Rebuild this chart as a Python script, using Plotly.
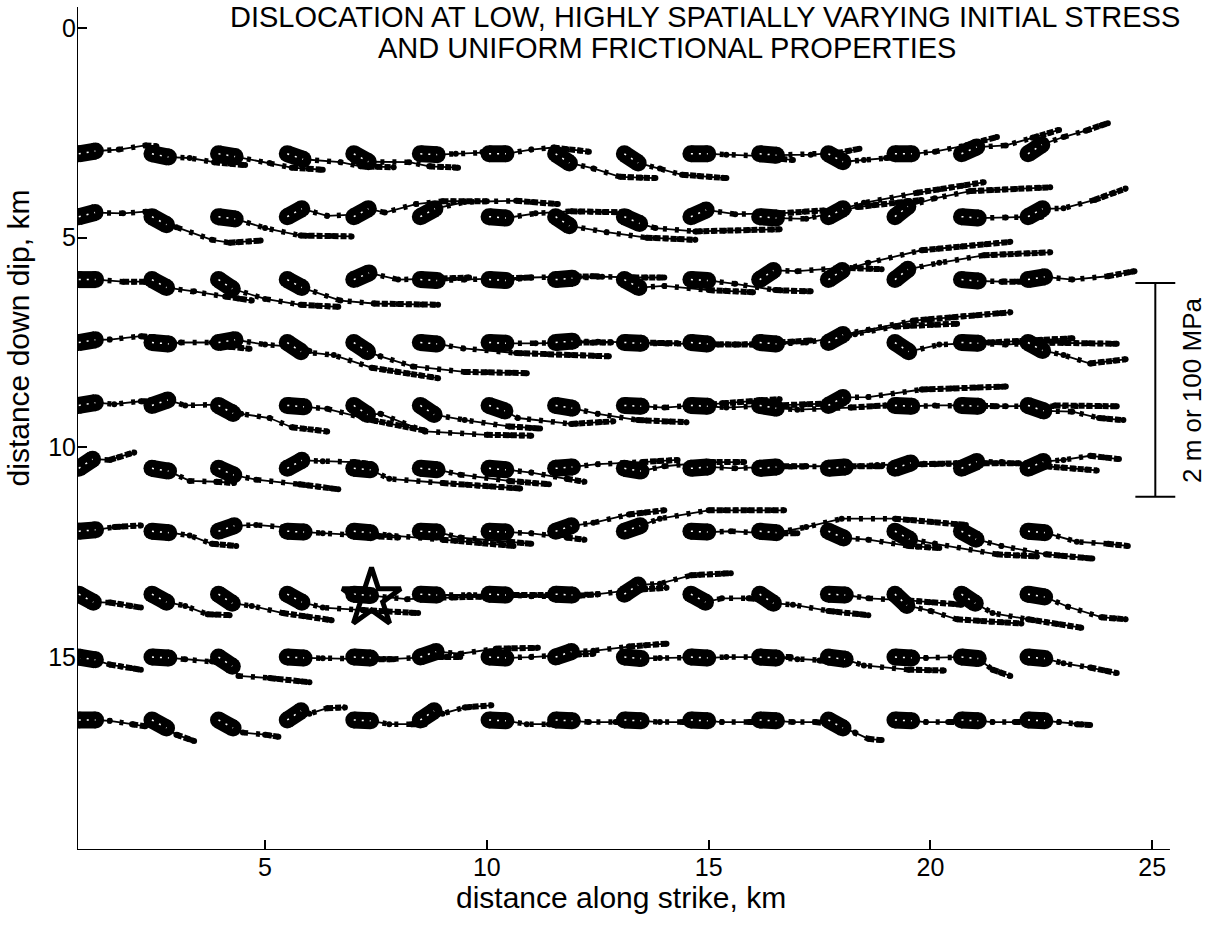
import math
import plotly.graph_objects as go

TITLE_LINE_1 = "DISLOCATION AT LOW, HIGHLY SPATIALLY VARYING INITIAL STRESS"
TITLE_LINE_2 = "AND UNIFORM FRICTIONAL PROPERTIES"
X_LABEL = "distance along strike, km"
Y_LABEL = "distance down dip, km"
SCALE_LABEL = "2 m or 100 MPa"

X_TICKS = [5, 10, 15, 20, 25]
Y_TICKS = [0, 5, 10, 15]

# station positions along strike (km) and down dip (km)
STATION_X = [0.8, 2.45, 3.95, 5.5, 7.0, 8.5, 10.05, 11.55, 13.1, 14.6, 16.15, 17.7, 19.2, 20.7, 22.2]
ROW_DEPTHS = [3.0, 4.5, 6.0, 7.5, 9.0, 10.5, 12.0, 13.5, 15.0, 16.5]

# each station: (initial slip direction in deg, + = down dip), trajectory vertices (x, y) in km
ROW_3_0 = [
    (-10, [(1.7, 2.9), (2.3, 2.8), (2.55, 2.82)]),
    (12, [(3.3, 3.1), (3.85, 3.2), (4.55, 3.27)]),
    (10, [(5.1, 3.22), (5.6, 3.33), (6.3, 3.38)]),
    (20, [(6.7, 3.2), (7.15, 3.3), (7.9, 3.32)]),
    (30, [(8.25, 3.2), (8.7, 3.3), (9.35, 3.33)]),
    (3, [(9.3, 3.0), (9.9, 2.96), (10.4, 2.95)]),
    (0, [(11.0, 2.9), (11.5, 2.85), (12.3, 2.95)]),
    (35, [(12.4, 3.35), (13.0, 3.55), (13.8, 3.58)]),
    (35, [(13.9, 3.35), (14.4, 3.5), (15.4, 3.58)]),
    (0, [(15.4, 3.02), (16.1, 3.05), (16.9, 3.15)]),
    (5, [(17.3, 3.02), (17.9, 2.98), (18.4, 2.88)]),
    (30, [(18.5, 3.15), (19.0, 3.1), (19.6, 3.05)]),
    (0, [(20.1, 2.95), (20.8, 2.8), (21.5, 2.6)]),
    (-25, [(21.7, 2.8), (22.3, 2.62), (22.9, 2.43)]),
    (-35, [(23.0, 2.6), (23.5, 2.45), (24.0, 2.27)]),
]
ROW_4_5 = [
    (-15, [(1.8, 4.42), (2.3, 4.38), (2.5, 4.4)]),
    (30, [(3.0, 4.75), (3.8, 5.05), (4.2, 5.12), (4.9, 5.07)]),
    (8, [(5.0, 4.77), (5.8, 4.95), (6.95, 4.97)]),
    (-30, [(6.4, 4.48), (7.0, 4.45), (7.4, 4.38)]),
    (-30, [(7.7, 4.4), (8.4, 4.2), (9.0, 4.13), (10.0, 4.13)]),
    (-30, [(9.5, 4.15), (10.66, 4.12), (11.6, 4.2)]),
    (5, [(11.1, 4.42), (11.9, 4.37), (13.2, 4.4)]),
    (35, [(12.7, 4.87), (13.6, 5.0), (14.7, 5.05)]),
    (25, [(13.8, 4.77), (14.7, 4.85), (16.6, 4.8)]),
    (-25, [(15.6, 4.44), (16.6, 4.42), (17.6, 4.35)]),
    (5, [(17.2, 4.55), (18.35, 4.27), (19.8, 4.1)]),
    (-30, [(18.5, 4.17), (19.7, 3.93), (21.2, 3.68)]),
    (-40, [(20.1, 4.06), (20.9, 3.89), (22.7, 3.8)]),
    (5, [(21.7, 4.52), (22.2, 4.5), (22.5, 4.5)]),
    (-30, [(23.0, 4.3), (23.7, 4.1), (24.4, 3.83)]),
]
ROW_6_0 = [
    (0, [(1.8, 6.05), (2.3, 6.05)]),
    (30, [(3.4, 6.28), (4.1, 6.4), (4.7, 6.5)]),
    (35, [(5.0, 6.46), (5.8, 6.6), (6.65, 6.65)]),
    (30, [(6.7, 6.5), (7.45, 6.57), (8.9, 6.6)]),
    (-25, [(8.0, 6.0), (8.8, 5.98), (9.6, 5.95)]),
    (3, [(9.5, 6.0), (10.3, 5.97), (11.0, 5.95)]),
    (3, [(11.0, 5.95), (11.8, 5.93), (12.5, 5.92)]),
    (-5, [(12.6, 5.93), (13.3, 5.95), (14.0, 5.95)]),
    (30, [(14.0, 6.15), (15.0, 6.25), (16.0, 6.3)]),
    (3, [(15.6, 6.1), (16.5, 6.25), (17.3, 6.28)]),
    (-35, [(17.0, 5.8), (18.0, 5.72), (18.9, 5.75)]),
    (-35, [(18.6, 5.6), (19.8, 5.3), (21.8, 5.1)]),
    (-40, [(20.2, 5.6), (21.2, 5.42), (22.7, 5.35)]),
    (5, [(21.6, 6.05), (22.3, 6.05)]),
    (-10, [(23.2, 6.0), (24.0, 5.92), (24.6, 5.8)]),
]
ROW_7_5 = [
    (-10, [(1.5, 7.43), (2.2, 7.35), (2.5, 7.38)]),
    (5, [(3.1, 7.5), (3.8, 7.5), (4.2, 7.6), (4.65, 7.65)]),
    (-10, [(5.0, 7.55), (5.6, 7.6), (6.0, 7.7)]),
    (35, [(6.55, 7.8), (7.4, 8.1), (8.9, 8.35)]),
    (35, [(7.6, 7.83), (8.33, 8.07), (9.5, 8.2), (10.9, 8.23)]),
    (5, [(9.47, 7.64), (10.66, 7.75), (12.75, 7.83)]),
    (3, [(11.1, 7.52), (12.0, 7.5), (12.8, 7.5)]),
    (-5, [(12.5, 7.48), (13.5, 7.5), (14.3, 7.52)]),
    (3, [(14.0, 7.52), (15.2, 7.55), (16.0, 7.55)]),
    (5, [(15.6, 7.55), (16.6, 7.5), (17.3, 7.45)]),
    (5, [(17.2, 7.5), (18.3, 7.3), (19.2, 7.12), (20.6, 7.05)]),
    (-30, [(18.6, 7.2), (19.6, 6.98), (21.8, 6.78)]),
    (35, [(20.2, 7.55), (21.3, 7.5), (23.2, 7.4)]),
    (3, [(21.7, 7.55), (22.5, 7.5), (24.2, 7.53)]),
    (30, [(23.0, 7.8), (23.6, 8.0), (24.4, 7.9)]),
]
ROW_9_0 = [
    (-10, [(1.6, 8.97), (2.2, 8.9), (2.6, 8.92)]),
    (-20, [(3.2, 9.0), (3.9, 8.98), (4.3, 9.05)]),
    (30, [(4.46, 9.2), (5.1, 9.3), (5.6, 9.52), (6.4, 9.62)]),
    (5, [(6.4, 9.08), (7.4, 9.35), (8.6, 9.6)]),
    (35, [(7.6, 9.2), (8.6, 9.62), (10.0, 9.7), (11.0, 9.72)]),
    (35, [(9.5, 9.35), (10.5, 9.5), (11.2, 9.55)]),
    (20, [(10.7, 9.3), (11.9, 9.44), (12.85, 9.38)]),
    (10, [(12.5, 9.2), (13.4, 9.35), (14.5, 9.4)]),
    (3, [(14.0, 9.05), (15.3, 8.95), (16.6, 8.85)]),
    (3, [(15.4, 9.05), (16.5, 9.0), (17.8, 8.95)]),
    (10, [(17.0, 9.1), (18.2, 9.05), (19.0, 9.0)]),
    (-30, [(18.6, 8.8), (19.8, 8.62), (21.7, 8.55)]),
    (3, [(20.1, 9.0), (20.8, 9.0), (21.5, 9.02)]),
    (3, [(21.7, 9.02), (22.8, 9.0), (24.2, 9.02)]),
    (20, [(23.2, 9.15), (23.8, 9.3), (24.35, 9.35)]),
]
ROW_10_5 = [
    (-35, [(1.5, 10.3), (2.05, 10.12)]),
    (10, [(3.3, 10.8), (3.9, 10.82), (4.3, 10.85)]),
    (25, [(4.8, 10.77), (5.77, 10.88), (6.65, 11.0)]),
    (-30, [(6.3, 10.33), (7.0, 10.35), (7.4, 10.4)]),
    (5, [(7.8, 10.75), (9.0, 10.85), (10.75, 10.98)]),
    (5, [(9.4, 10.65), (10.5, 10.8), (11.4, 10.88)]),
    (5, [(11.0, 10.6), (11.8, 10.75), (12.2, 10.82)]),
    (-5, [(12.5, 10.4), (13.5, 10.35), (14.3, 10.3)]),
    (10, [(14.0, 10.45), (15.0, 10.35), (15.8, 10.35)]),
    (-5, [(15.6, 10.5), (16.5, 10.45), (17.2, 10.45)]),
    (-5, [(17.2, 10.45), (18.2, 10.45), (18.9, 10.45)]),
    (-5, [(18.8, 10.42), (19.8, 10.4), (20.6, 10.38)]),
    (-20, [(20.1, 10.4), (21.2, 10.38), (22.0, 10.38)]),
    (-25, [(21.6, 10.35), (22.6, 10.45), (23.75, 10.55)]),
    (-25, [(23.0, 10.3), (23.6, 10.2), (24.25, 10.28)]),
]
ROW_12_0 = [
    (-5, [(1.6, 11.9), (2.2, 11.86)]),
    (5, [(3.3, 12.1), (3.8, 12.3), (4.35, 12.35)]),
    (-20, [(4.8, 11.85), (5.4, 11.9), (5.9, 11.95)]),
    (3, [(6.3, 12.05), (7.2, 12.1), (8.0, 12.15)]),
    (5, [(7.8, 12.1), (9.0, 12.2), (10.6, 12.35)]),
    (3, [(9.4, 12.15), (10.5, 12.25), (11.0, 12.3)]),
    (3, [(11.0, 12.05), (11.8, 12.15), (12.2, 12.2)]),
    (-20, [(12.4, 11.8), (13.2, 11.6), (14.0, 11.5)]),
    (-20, [(13.9, 11.7), (15.0, 11.5), (16.7, 11.5)]),
    (3, [(15.5, 12.0), (16.3, 12.05), (17.0, 12.05)]),
    (5, [(17.2, 11.9), (18.0, 11.7), (19.2, 11.7), (20.8, 11.85)]),
    (25, [(18.6, 12.2), (19.5, 12.35), (20.2, 12.4)]),
    (30, [(20.1, 12.3), (21.5, 12.55), (22.4, 12.6)]),
    (30, [(21.6, 12.35), (22.6, 12.55), (23.65, 12.65)]),
    (5, [(23.3, 12.25), (24.0, 12.3), (24.45, 12.35)]),
]
ROW_13_5 = [
    (30, [(1.5, 13.7), (2.2, 13.82)]),
    (30, [(3.2, 13.78), (3.7, 13.98), (4.2, 14.0)]),
    (35, [(4.7, 13.78), (5.4, 13.95), (6.5, 14.12)]),
    (30, [(6.3, 13.82), (7.2, 13.88), (8.45, 13.95)]),
    (5, [(8.2, 13.62), (9.2, 13.58), (10.2, 13.55)]),
    (3, [(9.6, 13.52), (10.6, 13.52), (11.5, 13.52)]),
    (3, [(11.0, 13.55), (11.9, 13.55), (12.5, 13.5)]),
    (3, [(12.5, 13.5), (13.3, 13.4), (14.05, 13.35)]),
    (-35, [(13.9, 13.25), (14.6, 13.05), (15.5, 13.0)]),
    (30, [(15.3, 13.6), (15.9, 13.6), (16.3, 13.62)]),
    (35, [(16.9, 13.75), (17.7, 13.9), (18.6, 14.0)]),
    (3, [(18.6, 13.6), (19.5, 13.65), (20.7, 13.75)]),
    (45, [(20.0, 13.9), (20.6, 14.1), (22.05, 14.2)]),
    (35, [(21.4, 13.95), (22.2, 14.1), (23.4, 14.3)]),
    (10, [(23.1, 13.8), (23.85, 14.05), (24.4, 14.1)]),
]
ROW_15_0 = [
    (10, [(1.5, 15.18), (2.2, 15.3)]),
    (3, [(3.2, 15.05), (3.8, 15.1), (4.2, 15.15)]),
    (35, [(4.4, 15.45), (5.1, 15.5), (6.0, 15.6)]),
    (3, [(6.3, 15.03), (7.2, 15.05), (7.9, 15.05)]),
    (3, [(7.8, 15.05), (8.7, 15.0), (9.4, 15.0)]),
    (-20, [(9.4, 14.92), (10.2, 14.8), (11.15, 14.78)]),
    (3, [(11.0, 15.0), (11.8, 14.95), (12.4, 14.92)]),
    (-20, [(12.4, 14.85), (13.2, 14.75), (14.05, 14.68)]),
    (5, [(13.9, 15.02), (14.5, 15.0), (15.0, 15.0)]),
    (3, [(15.4, 15.0), (16.2, 15.0), (16.85, 15.0)]),
    (3, [(17.0, 15.05), (17.5, 15.08), (18.0, 15.1)]),
    (8, [(18.5, 15.2), (19.5, 15.3), (20.3, 15.32)]),
    (3, [(19.9, 15.02), (20.6, 15.0), (21.0, 15.0)]),
    (5, [(21.4, 15.3), (21.8, 15.45)]),
    (5, [(23.0, 15.15), (23.6, 15.25), (24.2, 15.38)]),
]
ROW_16_5 = [
    (0, [(1.5, 16.52), (2.0, 16.6), (2.3, 16.65)]),
    (30, [(3.0, 16.85), (3.4, 17.0)]),
    (30, [(4.5, 16.8), (5.0, 16.85), (5.3, 16.9)]),
    (-35, [(6.0, 16.35), (6.4, 16.22), (6.8, 16.2)]),
    (3, [(7.8, 16.6), (8.3, 16.6), (8.6, 16.6)]),
    (-35, [(9.0, 16.35), (9.5, 16.2), (10.1, 16.15)]),
    (3, [(10.9, 16.6), (11.4, 16.6), (11.8, 16.6)]),
    (3, [(12.3, 16.55), (12.9, 16.55), (13.3, 16.55)]),
    (3, [(13.9, 16.55), (14.4, 16.55), (14.8, 16.55)]),
    (3, [(15.3, 16.55), (15.9, 16.55), (16.3, 16.55)]),
    (3, [(16.9, 16.55), (17.4, 16.55), (17.8, 16.6)]),
    (30, [(18.3, 16.8), (18.6, 16.95), (18.9, 16.98)]),
    (3, [(19.9, 16.55), (20.4, 16.55), (20.7, 16.55)]),
    (3, [(21.4, 16.55), (21.9, 16.55), (22.2, 16.55)]),
    (3, [(22.9, 16.55), (23.3, 16.6), (23.6, 16.62)]),
]
ROWS = [ROW_3_0, ROW_4_5, ROW_6_0, ROW_7_5, ROW_9_0, ROW_10_5, ROW_12_0, ROW_13_5, ROW_15_0, ROW_16_5]

HYPOCENTER_X = [7.4]
HYPOCENTER_Y = [13.6]

SCALE_BAR_X = 25.07
SCALE_BAR_TOP = 6.08
SCALE_BAR_BOTTOM = 11.18
SCALE_BAR_HALF_TICK = 0.45

X_RANGE = [0.76, 26.1]
Y_RANGE = [19.6, -0.5]

BLOB_LEN = 0.38  # km, length of the dense early-slip cluster

blob_x, blob_y = [], []
path_x, path_y = [], []
tail_x, tail_y = [], []
vert_x, vert_y = [], []
for depth, row in zip(ROW_DEPTHS, ROWS):
    for x0, (ang, pts) in zip(STATION_X, row):
        a = math.radians(ang)
        bx1 = x0 + BLOB_LEN * math.cos(a)
        by1 = depth + BLOB_LEN * math.sin(a)
        blob_x += [x0, bx1, None]
        blob_y += [depth, by1, None]
        seq = [(bx1, by1)] + list(pts)
        path_x += [p[0] for p in seq] + [None]
        path_y += [p[1] for p in seq] + [None]
        tail_x += [seq[-2][0], seq[-1][0], None]
        tail_y += [seq[-2][1], seq[-1][1], None]
        vert_x += [p[0] for p in seq[1:]]
        vert_y += [p[1] for p in seq[1:]]

BLACK = "#000000"
FONT = "Liberation Sans, Arial, Helvetica, sans-serif"

fig = go.Figure()
# thin trajectory lines
fig.add_trace(go.Scatter(x=path_x, y=path_y, mode="lines",
                         line=dict(color=BLACK, width=1.8), hoverinfo="skip", showlegend=False))
# dots along trajectories (time samples)
fig.add_trace(go.Scatter(x=path_x, y=path_y, mode="lines",
                         line=dict(color=BLACK, width=5.5, dash="4px,8px"), hoverinfo="skip", showlegend=False))
fig.add_trace(go.Scatter(x=vert_x, y=vert_y, mode="markers",
                         marker=dict(color=BLACK, size=6), hoverinfo="skip", showlegend=False))
# dense ends of trajectories
fig.add_trace(go.Scatter(x=tail_x, y=tail_y, mode="lines",
                         line=dict(color=BLACK, width=6, dash="6px,2px"), hoverinfo="skip", showlegend=False))
# dense early-slip clusters at each station
fig.add_trace(go.Scatter(x=blob_x, y=blob_y, mode="lines+markers",
                         line=dict(color=BLACK, width=17),
                         marker=dict(color=BLACK, size=17, symbol="circle"),
                         hoverinfo="skip", showlegend=False))
fig.add_trace(go.Scatter(x=blob_x, y=blob_y, mode="lines",
                         line=dict(color="#ffffff", width=1.5, dash="2px,6px"),
                         hoverinfo="skip", showlegend=False))
# hypocenter star
fig.add_trace(go.Scatter(x=HYPOCENTER_X, y=HYPOCENTER_Y, mode="markers",
                         marker=dict(symbol="star-open", size=44, color=BLACK, line=dict(color=BLACK, width=5)),
                         hoverinfo="skip", showlegend=False))

AXIS_W = 2
shapes = [
    dict(type="line", xref="x", yref="y", x0=X_RANGE[0], x1=X_RANGE[0], y0=Y_RANGE[1], y1=Y_RANGE[0],
         line=dict(color=BLACK, width=AXIS_W)),
    dict(type="line", xref="x", yref="y", x0=X_RANGE[0], x1=25.4, y0=Y_RANGE[0], y1=Y_RANGE[0],
         line=dict(color=BLACK, width=AXIS_W)),
    dict(type="line", xref="x", yref="y", x0=SCALE_BAR_X, x1=SCALE_BAR_X, y0=SCALE_BAR_TOP, y1=SCALE_BAR_BOTTOM,
         line=dict(color=BLACK, width=AXIS_W)),
    dict(type="line", xref="x", yref="y", x0=SCALE_BAR_X - SCALE_BAR_HALF_TICK, x1=SCALE_BAR_X + SCALE_BAR_HALF_TICK,
         y0=SCALE_BAR_TOP, y1=SCALE_BAR_TOP, line=dict(color=BLACK, width=AXIS_W)),
    dict(type="line", xref="x", yref="y", x0=SCALE_BAR_X - SCALE_BAR_HALF_TICK, x1=SCALE_BAR_X + SCALE_BAR_HALF_TICK,
         y0=SCALE_BAR_BOTTOM, y1=SCALE_BAR_BOTTOM, line=dict(color=BLACK, width=AXIS_W)),
]

annotations = [
    dict(text=TITLE_LINE_1, xref="paper", yref="paper", x=0.5587, y=0.988, xanchor="center", yanchor="middle",
         showarrow=False, font=dict(size=29, color=BLACK, family=FONT)),
    dict(text=TITLE_LINE_2, xref="paper", yref="paper", x=0.525, y=0.951, xanchor="center", yanchor="middle",
         showarrow=False, font=dict(size=29, color=BLACK, family=FONT)),
    dict(text=X_LABEL, xref="paper", yref="paper", x=0.484, y=-0.0560, xanchor="center", yanchor="middle",
         showarrow=False, font=dict(size=30, color=BLACK, family=FONT)),
    dict(text=Y_LABEL, xref="paper", yref="paper", x=-0.0525, y=0.608, xanchor="center", yanchor="middle",
         textangle=-90, showarrow=False, font=dict(size=30, color=BLACK, family=FONT)),
    dict(text=SCALE_LABEL, xref="x", yref="y", x=25.9, y=(SCALE_BAR_TOP + SCALE_BAR_BOTTOM) / 2,
         xanchor="center", yanchor="middle", textangle=-90, showarrow=False,
         font=dict(size=26, color=BLACK, family=FONT)),
]

fig.update_layout(
    width=1215, height=928,
    margin=dict(l=77, r=14, t=7, b=78),
    paper_bgcolor="white", plot_bgcolor="white",
    font=dict(family=FONT, color=BLACK, size=25),
    shapes=shapes, annotations=annotations,
    showlegend=False,
)
fig.update_xaxes(range=X_RANGE, tickvals=X_TICKS, ticks="inside", ticklen=10, tickwidth=AXIS_W,
                 tickcolor=BLACK, showgrid=False, zeroline=False, showline=False,
                 tickfont=dict(size=25, color=BLACK, family=FONT))
fig.update_yaxes(range=Y_RANGE, tickvals=Y_TICKS, ticks="inside", ticklen=10, tickwidth=AXIS_W,
                 tickcolor=BLACK, showgrid=False, zeroline=False, showline=False,
                 tickfont=dict(size=25, color=BLACK, family=FONT))

fig.write_html("out.html")
